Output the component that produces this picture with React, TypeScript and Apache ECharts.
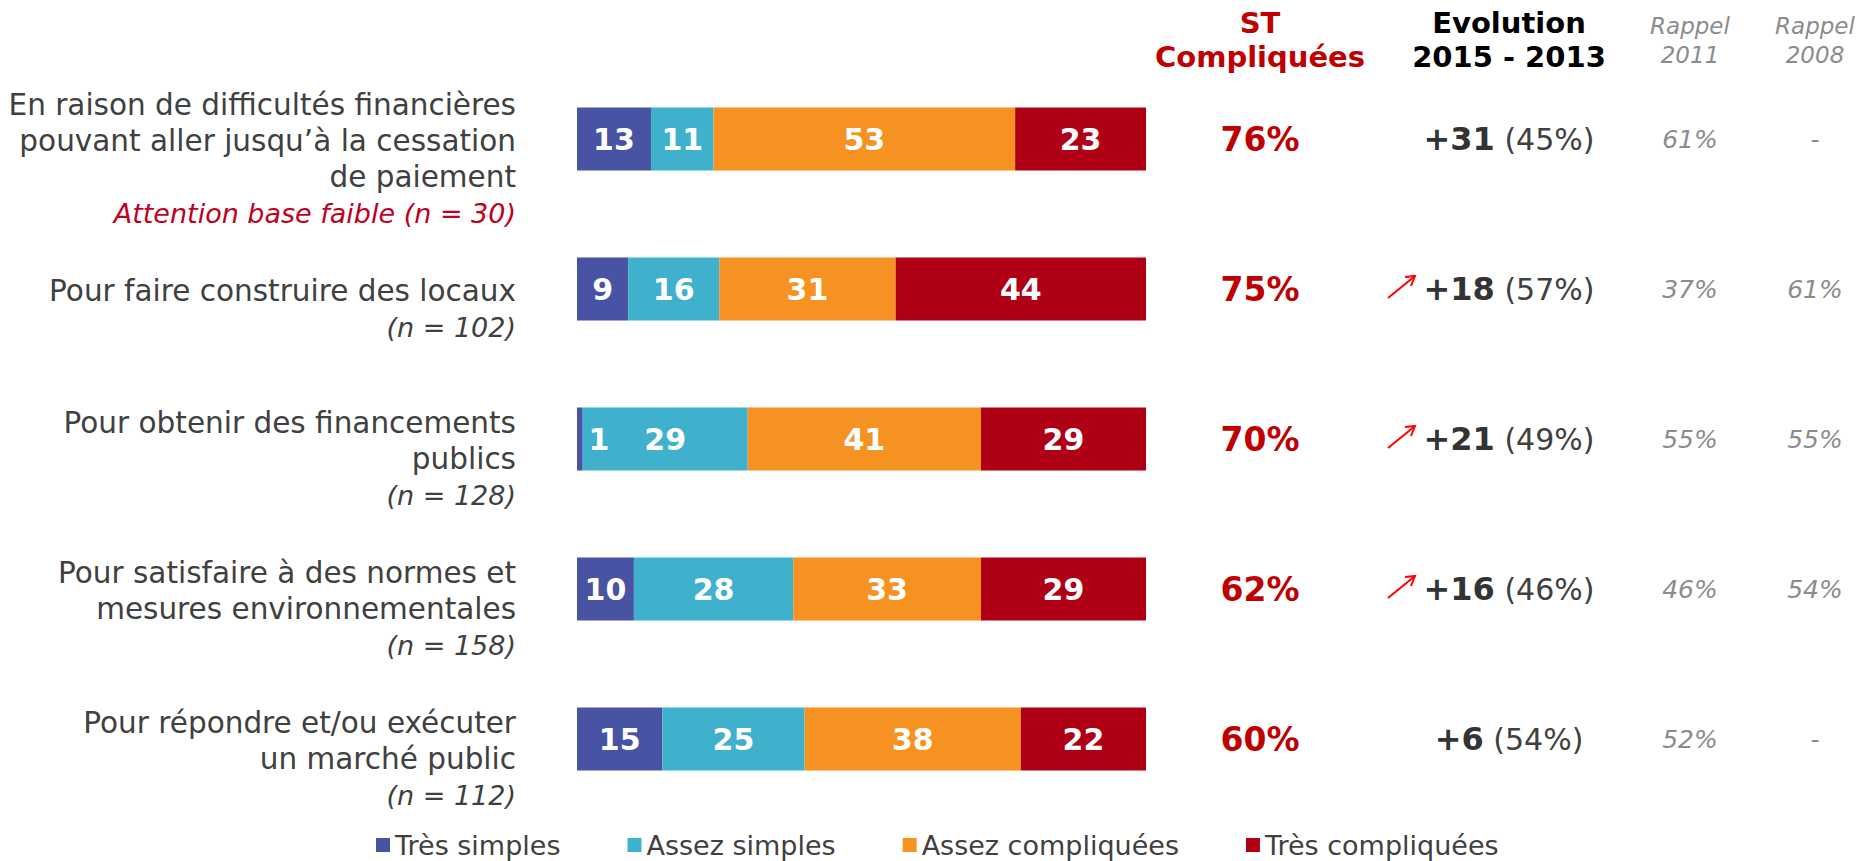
import React, { useEffect, useRef } from "react";
import * as echarts from "echarts";

const FONT = "DejaVu Sans";

const categoryLines: string[][] = [
  ["En raison de difficultés financières", "pouvant aller jusqu’à la cessation", "de paiement"],
  ["Pour faire construire des locaux"],
  ["Pour obtenir des financements", "publics"],
  ["Pour satisfaire à des normes et", "mesures environnementales"],
  ["Pour répondre et/ou exécuter", "un marché public"],
];
const baseNotes = ["Attention base faible (n = 30)", "(n = 102)", "(n = 128)", "(n = 158)", "(n = 112)"];
const lowBase = [true, false, false, false, false];
const categories = categoryLines.map((l) => l.join(" "));

const seriesNames = ["Très simples", "Assez simples", "Assez compliquées", "Très compliquées"];
const tresSimples = [13, 9, 1, 10, 15];
const assezSimples = [11, 16, 29, 28, 25];
const assezCompliquees = [53, 31, 41, 33, 38];
const tresCompliquees = [23, 44, 29, 29, 22];
const seriesColors = ["#4853A4", "#3FB1CD", "#F59222", "#AF0016"];

const stCompliquees = [76, 75, 70, 62, 60];
const evolution = [31, 18, 21, 16, 6];
const evolutionBase = [45, 57, 49, 46, 54];
const evolutionUp = [false, true, true, true, false];
const rappel2011 = ["61%", "37%", "55%", "46%", "52%"];
const rappel2008 = ["-", "61%", "55%", "54%", "-"];

const headerST = "ST\nCompliquées";
const headerEvol = "Evolution\n2015 - 2013";
const header2011 = "Rappel\n2011";
const header2008 = "Rappel\n2008";

const COL_ST = 1260;
const COL_EVOL = 1509;
const COL_2011 = 1690;
const COL_2008 = 1815;

export default function App() {
  const ref = useRef<HTMLDivElement>(null);
  useEffect(() => {
    if (!ref.current) return;
    const chart = echarts.init(ref.current, undefined, { renderer: "svg" });
    const values = [tresSimples, assezSimples, assezCompliquees, tresCompliquees];
    const barSeries = values.map((arr, si) => ({
      type: "bar",
      name: seriesNames[si],
      stack: "total",
      barWidth: 63,
      itemStyle: { color: seriesColors[si] },
      label: {
        show: true,
        position: "inside",
        color: "#ffffff",
        fontFamily: FONT,
        fontWeight: "bold",
        fontSize: 30,
        formatter: "{c}",
      },
      data: arr.map((v) => (v < 3 ? { value: v, label: { offset: [19, 0] } } : v)),
    }));

    const tableSeries = {
      type: "custom",
      name: "table",
      clip: false,
      silent: true,
      data: stCompliquees.map((_, i) => [0, i]),
      encode: { x: 0, y: 1 },
      renderItem: (params: any, api: any) => {
        const i = params.dataIndex;
        const y = api.coord([0, api.value(1)])[1];
        const children: any[] = [
          {
            type: "text",
            x: COL_ST,
            y,
            style: {
              text: stCompliquees[i] + "%",
              fill: "#C00000",
              fontFamily: FONT,
              fontWeight: "bold",
              fontSize: 33,
              align: "center",
              verticalAlign: "middle",
            },
          },
          {
            type: "text",
            x: COL_EVOL,
            y,
            style: {
              text: `{b|+${evolution[i]}}{p|\u00a0(${evolutionBase[i]}%)}`,
              align: "center",
              verticalAlign: "middle",
              rich: {
                b: { fontFamily: FONT, fontWeight: "bold", fontSize: 32, fill: "#333333" },
                p: { fontFamily: FONT, fontSize: 30, fill: "#404040" },
              },
            },
          },
          {
            type: "text",
            x: COL_2011,
            y,
            style: {
              text: rappel2011[i],
              fill: "#8C8C8C",
              fontFamily: FONT,
              fontStyle: "italic",
              fontSize: 25,
              align: "center",
              verticalAlign: "middle",
            },
          },
          {
            type: "text",
            x: COL_2008,
            y,
            style: {
              text: rappel2008[i],
              fill: "#8C8C8C",
              fontFamily: FONT,
              fontStyle: "italic",
              fontSize: 25,
              align: "center",
              verticalAlign: "middle",
            },
          },
        ];
        if (evolutionUp[i]) {
          children.push(
            {
              type: "line",
              shape: { x1: 1388, y1: y + 9, x2: 1415, y2: y - 13 },
              style: { stroke: "#FF0000", lineWidth: 2 },
            },
            {
              type: "polyline",
              shape: { points: [[1405, y - 12], [1415, y - 13], [1411, y - 3]] },
              style: { stroke: "#FF0000", lineWidth: 2, fill: "none" },
            }
          );
        }
        return { type: "group", children };
      },
    };

    const headerText = (text: string, x: number, fill: string, bold: boolean, italic: boolean, size: number, lh: number) => ({
      type: "text",
      x,
      y: 40,
      style: {
        text,
        fill,
        fontFamily: FONT,
        fontWeight: bold ? "bold" : "normal",
        fontStyle: italic ? "italic" : "normal",
        fontSize: size,
        lineHeight: lh,
        align: "center",
        verticalAlign: "middle",
      },
    });

    chart.setOption({
      animation: false,
      backgroundColor: "#ffffff",
      textStyle: { fontFamily: FONT },
      grid: { left: 577, width: 569, top: 64, height: 750 },
      xAxis: { type: "value", min: 0, max: 100, show: false },
      yAxis: {
        type: "category",
        inverse: true,
        data: categories,
        axisLine: { show: false },
        axisTick: { show: false },
        axisLabel: {
          interval: 0,
          margin: 61,
          padding: [40, 0, 0, 0],
          align: "right",
          formatter: (_v: string, idx: number) => {
            const lines = categoryLines[idx].map((l) => `{m|${l}}`);
            lines.push(`{${lowBase[idx] ? "r" : "n"}|${baseNotes[idx]}}`);
            return lines.join("\n");
          },
          rich: {
            m: { fontFamily: FONT, fontSize: 29.5, lineHeight: 36, color: "#404040", align: "right" },
            n: { fontFamily: FONT, fontSize: 27, lineHeight: 36, color: "#404040", fontStyle: "italic", align: "right" },
            r: { fontFamily: FONT, fontSize: 27, lineHeight: 36, color: "#C00020", fontStyle: "italic", align: "right" },
          },
        },
      },
      legend: {
        data: seriesNames,
        left: 371,
        top: 826,
        icon: "rect",
        itemWidth: 14,
        itemHeight: 14,
        itemGap: 67,
        textStyle: { fontFamily: FONT, fontSize: 27, color: "#404040", lineHeight: 28 },
      },
      graphic: [
        headerText(headerST, COL_ST, "#C00000", true, false, 29, 34),
        headerText(headerEvol, COL_EVOL, "#000000", true, false, 29, 34),
        headerText(header2011, COL_2011, "#8C8C8C", false, true, 23, 29),
        headerText(header2008, COL_2008, "#8C8C8C", false, true, 23, 29),
      ],
      series: [...barSeries, tableSeries],
    });
    return () => chart.dispose();
  }, []);
  return (
    <div
      ref={ref}
      style={{ position: "absolute", left: 0, top: 0, width: 1859, height: 861, background: "#fff" }}
    />
  );
}
